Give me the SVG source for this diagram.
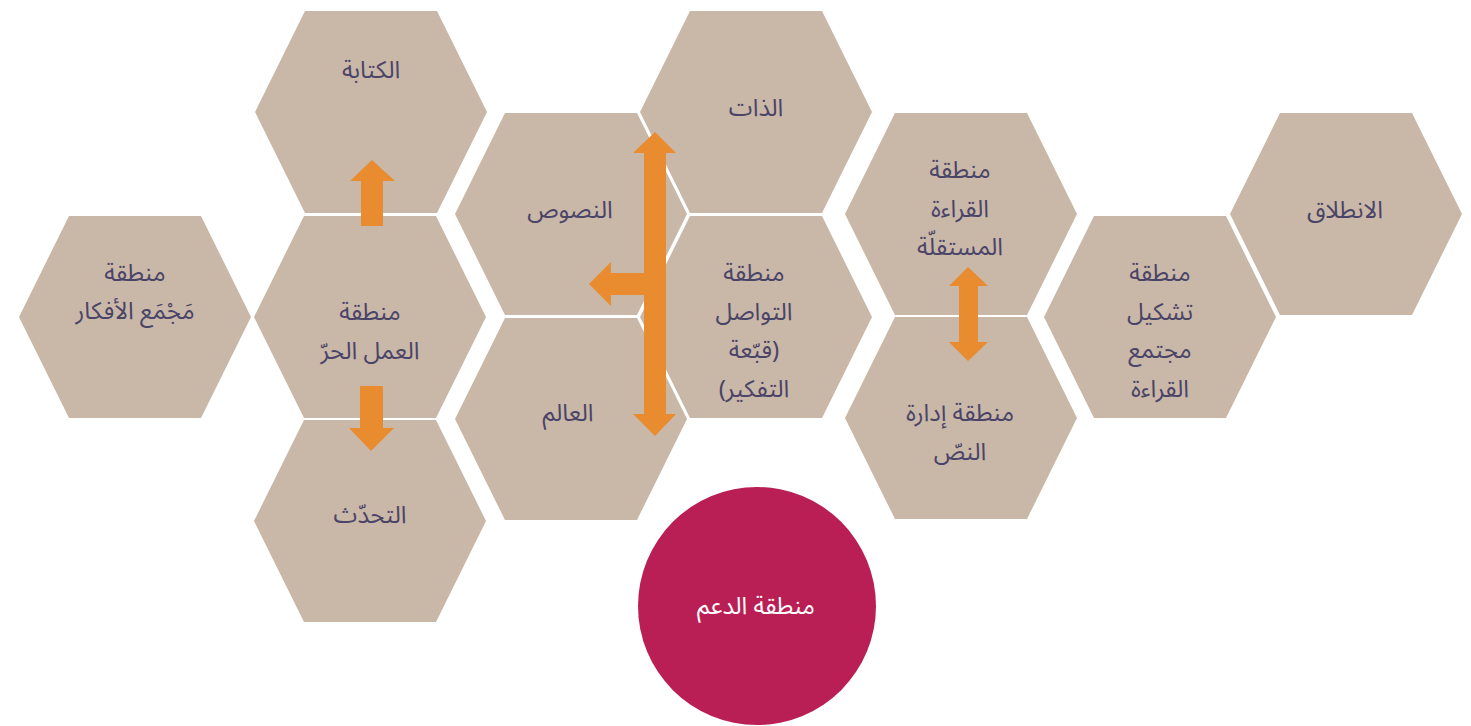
<svg xmlns="http://www.w3.org/2000/svg" xmlns:xlink="http://www.w3.org/1999/xlink" width="1471" height="726" viewBox="0 0 1471 726">
<style>
.hex{fill:#C9B7A7}
.t{font-family:"Noto Sans Arabic","DejaVu Sans","Noto Sans",sans-serif;font-size:24px;fill:#4A4468;text-anchor:middle;direction:rtl}
.w{fill:#FFFFFF}
.arr{fill:#E98C2F}
</style>
<defs>
<polygon id="hx" points="-116,0 -66,-101 66,-101 116,0 66,101 -66,101"/>
</defs>
<rect width="1471" height="726" fill="#FFFFFF"/>
<g id="n-majma">
<use xlink:href="#hx" class="hex" transform="translate(135,317)"/>
<text class="t" x="135" y="281">منطقة</text>
<text class="t" x="135" y="319">مَجْمَع الأفكار</text>
</g>
<g id="n-kitaba">
<use xlink:href="#hx" class="hex" transform="translate(371,112)"/>
<text class="t" x="371" y="78">الكتابة</text>
</g>
<g id="n-amal">
<use xlink:href="#hx" class="hex" transform="translate(370,317)"/>
<text class="t" x="370" y="320">منطقة</text>
<text class="t" x="370" y="359">العمل الحرّ</text>
</g>
<g id="n-tahadduth">
<use xlink:href="#hx" class="hex" transform="translate(370,521)"/>
<text class="t" x="370" y="523">التحدّث</text>
</g>
<g id="n-nusus">
<use xlink:href="#hx" class="hex" transform="translate(571,214)"/>
<text class="t" x="570" y="218">النصوص</text>
</g>
<g id="n-alam">
<use xlink:href="#hx" class="hex" transform="translate(571,419)"/>
<text class="t" x="568" y="421">العالم</text>
</g>
<g id="n-dhat">
<use xlink:href="#hx" class="hex" transform="translate(756,112)"/>
<text class="t" x="756" y="116">الذات</text>
</g>
<g id="n-tawasul">
<use xlink:href="#hx" class="hex" transform="translate(756,317)"/>
<text class="t" x="754" y="281">منطقة</text>
<text class="t" x="754" y="320">التواصل</text>
<text class="t" x="754" y="358">(قبّعة</text>
<text class="t" x="754" y="397">التفكير)</text>
</g>
<g id="n-mustaqilla">
<use xlink:href="#hx" class="hex" transform="translate(961,214)"/>
<text class="t" x="960" y="178">منطقة</text>
<text class="t" x="960" y="217">القراءة</text>
<text class="t" x="960" y="255">المستقلّة</text>
</g>
<g id="n-idara">
<use xlink:href="#hx" class="hex" transform="translate(961,418)"/>
<text class="t" x="960" y="421">منطقة إدارة</text>
<text class="t" x="960" y="460">النصّ</text>
</g>
<g id="n-tashkil">
<use xlink:href="#hx" class="hex" transform="translate(1160,317)"/>
<text class="t" x="1160" y="281">منطقة</text>
<text class="t" x="1160" y="320">تشكيل</text>
<text class="t" x="1160" y="358">مجتمع</text>
<text class="t" x="1160" y="397">القراءة</text>
</g>
<g id="n-intilaq">
<use xlink:href="#hx" class="hex" transform="translate(1346,214)"/>
<text class="t" x="1345" y="218">الانطلاق</text>
</g>
<g id="n-daam">
<circle cx="757" cy="606" r="119" fill="#B91F55"/>
<text class="t w" x="756" y="614">منطقة الدعم</text>
</g>
<g id="connectors">
<polygon class="arr" points="372,160 395,181 383,181 383,226 361,226 361,181 350,181"/>
<polygon class="arr" points="360,386 383,386 383,428 394,428 371,451 349,428 360,428"/>
<polygon class="arr" points="655,132 676,153 666,153 666,414 676,414 655,436 633,414 644,414 644,295 611,295 611,306 589,284 611,262 611,273 644,273 644,153 633,153"/>
<polygon class="arr" points="968,267 988,286 978,286 978,342 988,342 968,361 949,342 959,342 959,286 949,286"/>
</g>
</svg>
